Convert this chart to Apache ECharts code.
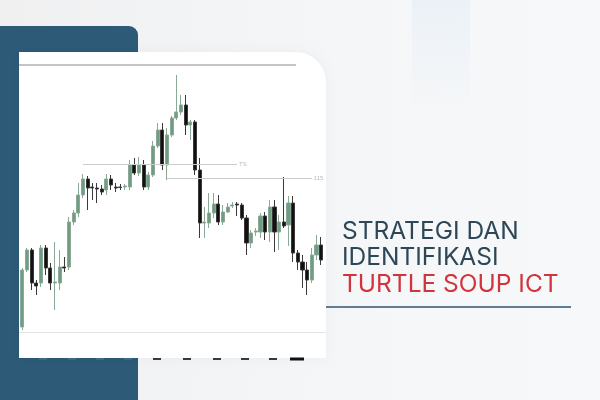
<!DOCTYPE html>
<html>
<head>
<meta charset="utf-8">
<script src="https://cdn.jsdelivr.net/npm/echarts@6/dist/echarts.min.js"></script>
<style>html,body{margin:0;padding:0;background:#f2f3f5;}#c{width:600px;height:400px;}</style>
</head>
<body>
<div id="c"></div>
<script>
// candle data (price units)
const opens  = [5,62,82,49,49,84,64,49,49,65,65,110,119,137,153,145,144,143,142,153,145,145,145,145,167,159,167,145,157,186,202,167,197,214,220,227,207,210,162,109,109,119,128,110,120,126,128,127,114,89,100,100,116,100,125,100,110,107,129,79,70,62,52,77,87];
const closes = [62,82,49,46,84,64,49,50,65,64,110,119,137,153,144,144,143,140,153,147,144,144.5,146,167,159,167,145,157,186,202,167,197,214,220,227,207,210,162,109,110,119,128,110,120,125,127,127,114,89,99,101,116,100,125,100,110,106,129,79,70,62,52,77,87,72];
const lows   = [2,60,42,37,45,57,42,22,42,60,62,107,115,134,122,132,129,137,137,142,140,142,142,142,157,156,142,142,155,184,162,152,195,212,217,197,192,157,94,94,104,114,107,107,119,124,116,112,77,84,96,94,92,90,80,82,104,86,70,62,44,37,49,72,67];
const highs  = [64,84,84,52,87,87,69,90,82,75,115,122,149,158,156,149,149,147,158,157,149,148,148,172,174,175,172,160,191,209,209,204,216,257,237,237,212,212,174,125,139,139,137,127,129,130,130,129,117,102,104,119,120,132,132,117,155,136,136,82,77,70,84,97,95];
const categories = opens.map((_, i) => 'C' + (i + 1));
const levels = [
  { name: 'TS',  value: 168, from: 13, to: 46 },
  { name: '115', value: 154, from: 31, to: 62 }
];

const candleData = opens.map((o, i) => [o, closes[i], lows[i], highs[i]]);

const chart = echarts.init(document.getElementById('c'), null, { renderer: 'canvas' });
const dashesDark = [157, 187, 217, 245, 273];
const dashesPanel = [43, 72, 100, 128];
const titleFont = '400 24.5px Inter';
const graphics = [
  { type: 'rect', z: -10, silent: true, shape: { x: 0, y: 0, width: 600, height: 400 },
    style: { fill: new echarts.graphic.LinearGradient(0, 0, 1, 0, [
      { offset: 0, color: '#f0f0f1' }, { offset: 0.55, color: '#f4f6f8' }, { offset: 1, color: '#f7f8fa' }]) } },
  { type: 'rect', z: -9, silent: true, shape: { x: 412, y: 0, width: 58, height: 110 },
    style: { fill: new echarts.graphic.LinearGradient(0, 0, 0, 1, [
      { offset: 0, color: 'rgba(205,225,240,0.25)' }, { offset: 1, color: 'rgba(205,225,240,0)' }]) } },
  { type: 'rect', z: -8, silent: true, shape: { x: 0, y: 26, width: 138, height: 374, r: [0, 9, 0, 0] },
    style: { fill: '#2c5a77' } },
  { type: 'rect', z: -7, silent: true, shape: { x: 19, y: 52, width: 307, height: 306, r: [0, 30, 0, 0] },
    style: { fill: '#ffffff', shadowBlur: 10, shadowColor: 'rgba(0,0,0,0.04)' } },
  { type: 'line', z: -6, silent: true, shape: { x1: 19, y1: 65, x2: 296, y2: 65 }, style: { stroke: '#8a8a8a', lineWidth: 1 } },
  { type: 'line', z: -6, silent: true, shape: { x1: 19, y1: 332.5, x2: 326, y2: 332.5 }, style: { stroke: '#e2e2e2', lineWidth: 1 } },
  { type: 'text', z: 5, silent: true, left: 342, top: 219.5, style: { text: 'STRATEGI DAN', fill: '#2e4757', font: titleFont } },
  { type: 'text', z: 5, silent: true, left: 342, top: 245, style: { text: 'IDENTIFIKASI', fill: '#2e4757', font: titleFont } },
  { type: 'text', z: 5, silent: true, left: 342, top: 272.5, style: { text: 'TURTLE SOUP ICT', fill: '#d1343c', font: titleFont } },
  { type: 'rect', z: 5, silent: true, shape: { x: 326, y: 306, width: 245, height: 2 }, style: { fill: '#5f7d95' } }
];
dashesDark.forEach(x => graphics.push({ type: 'rect', z: 4, silent: true, shape: { x: x - 4, y: 358, width: 8, height: 2 }, style: { fill: '#3a3a3a' } }));
dashesPanel.forEach(x => graphics.push({ type: 'rect', z: 4, silent: true, shape: { x: x - 4, y: 358, width: 8, height: 2 }, style: { fill: '#3d6985' } }));
graphics.push({ type: 'rect', z: 4, silent: true, shape: { x: 290, y: 357.5, width: 14, height: 3 }, style: { fill: '#111' } });

chart.setOption({
  animation: false,
  backgroundColor: 'transparent',
  graphic: graphics,
  grid: { left: 20, top: 65, width: 303.5, height: 267 },
  xAxis: { type: 'category', data: categories, boundaryGap: true, show: false },
  yAxis: { type: 'value', min: 0, max: 267, show: false },
  series: [{
    type: 'candlestick',
    data: candleData,
    barWidth: 3.6,
    itemStyle: { color: '#6f9d82', color0: '#111111', borderColor: '#8aa996', borderColor0: '#3a3a3a', borderWidth: 1 },
    markLine: {
      symbol: ['none', 'none'],
      silent: true,
      lineStyle: { type: 'solid', color: '#cccccc', width: 1 },
      label: { show: true, position: 'end', color: '#bbbbbb', fontSize: 6, distance: 2 },
      data: levels.map(l => [
        { coord: [l.from, l.value], name: l.name, label: { formatter: l.name } },
        { coord: [l.to, l.value] }
      ])
    }
  }]
});
</script>
</body>
</html>
